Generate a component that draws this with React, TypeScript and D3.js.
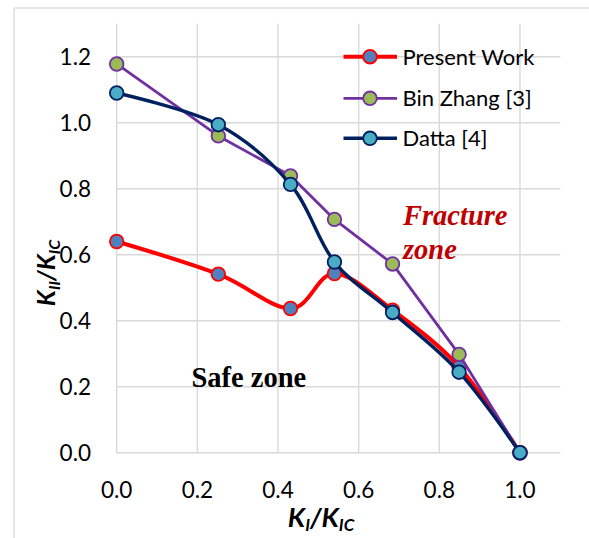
import React from "react";
import * as d3 from "d3";

const xValues = [0, 0.252, 0.431, 0.54, 0.684, 0.849, 1.0];
const presentWork = [0.64, 0.541, 0.437, 0.543, 0.432, 0.26, 0];
const binZhang = [1.178, 0.96, 0.839, 0.707, 0.572, 0.298, 0];
const datta = [1.09, 0.994, 0.813, 0.578, 0.425, 0.244, 0];
const xTicks = [0, 0.2, 0.4, 0.6, 0.8, 1.0];
const yTicks = [0, 0.2, 0.4, 0.6, 0.8, 1.0, 1.2];
const seriesNames = ["Present Work", "Bin Zhang [3]", "Datta [4]"];

const W = 589;
const H = 538;
const margin = { left: 116.7, right: 28.7, top: 23.7, bottom: 85.3 };

const series = [
  { name: seriesNames[0], values: presentWork, stroke: "#FF0000", fill: "#4F81BD", width: 4, smooth: true },
  { name: seriesNames[1], values: binZhang, stroke: "#7030A0", fill: "#9BBB59", width: 2.8, smooth: false },
  { name: seriesNames[2], values: datta, stroke: "#002060", fill: "#4BACC6", width: 3.4, smooth: true },
];

export default function App() {
  const x = d3.scaleLinear().domain([0, 1.1]).range([margin.left, W - margin.right]);
  const y = d3.scaleLinear().domain([0, 1.3]).range([H - margin.bottom, margin.top]);
  const sans = "Lato, 'Open Sans', sans-serif";
  const serif = "'Liberation Serif', 'DejaVu Serif', serif";
  const grid = "#D9D9D9";

  return (
    <svg width={W} height={H} style={{ position: "absolute", left: 0, top: 0, background: "#fff" }}>
      <rect x={0} y={0} width={W} height={H} fill="#fff" />
      {/* outer chart border */}
      <rect x={14} y={8} width={W + 20} height={H + 20} fill="none" stroke={grid} strokeWidth={1.3} />
      {/* grid */}
      {yTicks.map((t) => (
        <line key={"gy" + t} x1={x(0)} x2={x(1.1)} y1={y(t)} y2={y(t)} stroke={grid} strokeWidth={1.4} />
      ))}
      {xTicks.map((t) => (
        <line key={"gx" + t} x1={x(t)} x2={x(t)} y1={y(0)} y2={y(1.3)} stroke={grid} strokeWidth={1.4} />
      ))}
      {/* tick labels */}
      {yTicks.map((t) => (
        <text key={"ty" + t} x={91} y={y(t)} dy="0.36em" textAnchor="end" fontFamily={sans} fontSize={22.5} fill="#000">
          {t.toFixed(1)}
        </text>
      ))}
      {xTicks.map((t) => (
        <text key={"tx" + t} x={x(t)} y={489.5} dy="0.36em" textAnchor="middle" fontFamily={sans} fontSize={22.5} fill="#000">
          {t.toFixed(1)}
        </text>
      ))}
      {/* series */}
      {series.map((s) => {
        const pts: [number, number][] = xValues.map((xv, i) => [x(xv), y(s.values[i])]);
        const line = d3
          .line()
          .curve(s.smooth ? d3.curveCardinal.tension(0) : d3.curveLinear)(pts) as string;
        return (
          <g key={s.name}>
            <path d={line} fill="none" stroke={s.stroke} strokeWidth={s.width} strokeLinejoin="round" />
            {pts.map((p, i) => (
              <circle key={i} cx={p[0]} cy={p[1]} r={6.8} fill={s.fill} stroke={s.stroke} strokeWidth={1.8} />
            ))}
          </g>
        );
      })}
      {/* legend */}
      {series.map((s, i) => {
        const ly = [56.7, 98.3, 138.3][i];
        return (
          <g key={"lg" + s.name}>
            <line x1={343.5} x2={397} y1={ly} y2={ly} stroke={s.stroke} strokeWidth={s.width} />
            <circle cx={370} cy={ly} r={6.8} fill={s.fill} stroke={s.stroke} strokeWidth={1.8} />
            <text x={402.5} y={ly} dy="0.36em" fontFamily={sans} fontSize={22} fill="#000">
              {s.name}
            </text>
          </g>
        );
      })}
      {/* annotations */}
      <text x={191.5} y={387} fontFamily={serif} fontWeight="bold" fontSize={28.5} fill="#000">
        Safe zone
      </text>
      <text fontFamily={serif} fontWeight="bold" fontStyle="italic" fontSize={28.5} fill="#C00000">
        <tspan x={403} y={225}>Fracture</tspan>
        <tspan x={403} y={259}>zone</tspan>
      </text>
      {/* axis titles */}
      <text x={321} y={527} textAnchor="middle" fontFamily={sans} fontWeight="bold" fontStyle="italic" fontSize={27} fill="#000">
        K<tspan fontSize={17} dy={4}>I</tspan>
        <tspan dy={-4}>/K</tspan>
        <tspan fontSize={17} dy={4}>IC</tspan>
      </text>
      <text
        transform="translate(55,273) rotate(-90)"
        textAnchor="middle"
        fontFamily={sans}
        fontWeight="bold"
        fontStyle="italic"
        fontSize={25}
        fill="#000"
      >
        K<tspan fontSize={16} dy={5}>II</tspan>
        <tspan dy={-5}>/K</tspan>
        <tspan fontSize={16} dy={5}>IC</tspan>
      </text>
    </svg>
  );
}
